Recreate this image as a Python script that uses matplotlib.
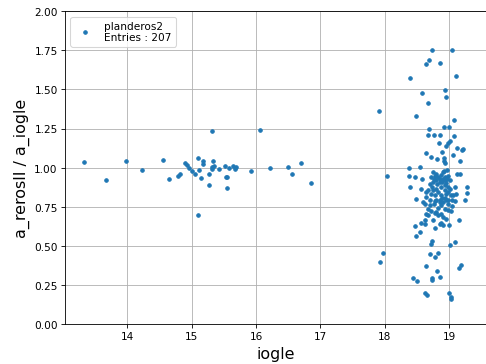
import numpy as np
import matplotlib
matplotlib.use("Agg")
import matplotlib.pyplot as plt

# planderos2 : ratio vs iogle
iogle_left = [13.333, 13.667, 13.984, 14.224, 14.557, 14.651, 14.781, 14.823, 14.901, 14.932,
              14.953, 15.000, 15.052, 15.104, 15.120, 15.146, 15.172, 15.172, 15.266, 15.276,
              15.312, 15.312, 15.323, 15.339, 15.344, 15.422, 15.516, 15.531, 15.547, 15.542,
              15.583, 15.635, 15.672, 15.693, 15.104, 15.917, 16.057, 16.224, 16.500, 16.552,
              16.698, 16.859]
ratio_left = [1.037, 0.919, 1.044, 0.984, 1.048, 0.929, 0.950, 0.961, 1.029, 1.016,
              0.999, 0.982, 0.957, 1.065, 0.984, 0.936, 1.044, 1.027, 0.961, 0.887,
              1.237, 0.995, 1.003, 1.042, 1.014, 0.989, 1.012, 0.944, 0.938, 0.870,
              0.999, 1.012, 0.991, 1.006, 0.698, 0.978, 1.243, 0.999, 1.003, 0.957,
              1.033, 0.902]

iogle_right = [18.734, 19.042, 18.682, 18.641, 18.854, 18.391, 19.109, 18.573, 18.932, 18.948,
               18.667, 17.911, 18.479, 19.068, 18.682, 18.922, 19.000, 18.667, 18.760, 18.865,
               19.068, 18.839, 18.953, 18.979, 19.016, 19.120, 19.193, 19.208, 18.885, 19.052,
               18.646, 18.714, 18.807, 18.927, 18.922, 18.938, 19.161, 18.375, 18.547, 18.042,
               18.370, 18.469, 18.573, 18.755, 18.922, 18.964, 19.115, 19.167, 18.391, 18.568,
               18.698, 18.734, 18.984, 19.089, 19.281, 18.479, 19.271, 19.240, 19.104, 18.646,
               18.724, 18.776, 18.474, 18.557, 18.620, 18.630, 18.776, 19.156, 18.552, 18.479,
               18.740, 19.089, 18.724, 19.010, 17.974, 17.927, 18.708, 18.776, 18.828, 18.646,
               18.807, 19.156, 19.182, 18.438, 18.495, 18.734, 18.734, 18.854, 18.630, 18.661,
               18.995, 19.021, 19.026, 18.698, 18.802, 18.854, 18.984, 19.089, 18.828, 18.870,
               18.906, 18.984, 19.036, 18.750, 18.854, 18.880, 18.906, 18.995,
               # dense core
               18.724, 18.776, 18.828, 18.880, 18.906, 18.943, 18.984, 18.802, 18.854, 18.891,
               18.958, 19.010, 18.766, 18.635, 18.714, 18.776, 18.828, 18.870, 18.932, 18.984,
               19.063, 19.042, 18.776, 18.891, 18.958, 18.854,
               18.802, 18.854, 18.932, 18.974, 18.906, 18.750, 18.818, 18.932, 18.880, 18.802,
               18.672, 18.750, 18.932, 19.010, 18.646, 18.698, 18.766, 18.880, 18.984, 19.047,
               18.828, 18.932, 18.672, 18.802, 18.594, 18.620, 19.036, 18.958, 18.906, 18.672,
               18.958]
ratio_right = [1.752, 1.752, 1.686, 1.665, 1.672, 1.572, 1.585, 1.476, 1.498, 1.453,
               1.411, 1.362, 1.328, 1.305, 1.245, 1.262, 1.262, 1.209, 1.209, 1.209,
               1.205, 1.160, 1.141, 1.156, 1.173, 1.124, 1.114, 1.120, 1.103, 1.080,
               1.092, 1.071, 1.056, 1.063, 1.046, 1.033, 1.042, 0.999, 1.006, 0.946,
               0.946, 0.940, 0.929, 0.972, 0.982, 0.986, 0.961, 0.961, 0.880, 0.866,
               0.897, 0.876, 0.876, 0.876, 0.876, 0.798, 0.838, 0.793, 0.829, 0.706,
               0.721, 0.713, 0.628, 0.649, 0.643, 0.668, 0.615, 0.664, 0.590, 0.564,
               0.530, 0.526, 0.515, 0.505, 0.454, 0.395, 0.448, 0.431, 0.454, 0.373,
               0.339, 0.361, 0.378, 0.293, 0.276, 0.297, 0.282, 0.303, 0.202, 0.187,
               0.202, 0.176, 0.159, 0.795, 0.795, 0.781, 0.795, 0.785, 0.696, 0.706,
               0.685, 0.728, 0.721, 0.664, 0.643, 0.649, 0.632, 0.632,
               # dense core
               0.940, 0.950, 0.940, 0.955, 0.929, 0.940, 0.950, 0.919, 0.908, 0.912,
               0.904, 0.919, 0.929, 0.844, 0.834, 0.823, 0.844, 0.827, 0.806, 0.844,
               0.823, 0.791, 0.785, 0.806, 0.791, 0.791,
               0.961, 0.929, 0.919, 0.929, 0.972, 0.912, 0.897, 0.887, 0.876, 0.866,
               0.855, 0.855, 0.855, 0.861, 0.812, 0.759, 0.770, 0.759, 0.770, 0.755,
               0.742, 0.738, 0.738, 0.717, 0.781, 0.770, 0.823, 0.834, 0.781, 0.696,
               0.675]

x = np.array(iogle_left + iogle_right)
y = np.array(ratio_left + ratio_right)

fig = plt.figure(figsize=(6.4, 4.8), dpi=76)
ax = fig.add_axes([0.134, 0.109, 0.866, 0.858])
ax.plot(x, y, "o", ms=3.3, color="#1f77b4",
        label="planderos2\nEntries : %d" % len(x))
ax.set_ylim(0, 2)
ax.set_xticks([14, 15, 16, 17, 18, 19])
ax.grid(True)
ax.set_xlabel("iogle", fontsize=15)
ax.set_ylabel("a_rerosII / a_iogle", fontsize=15)
ax.legend(loc="upper left", numpoints=1)

fig.savefig("out.png", dpi=76)
